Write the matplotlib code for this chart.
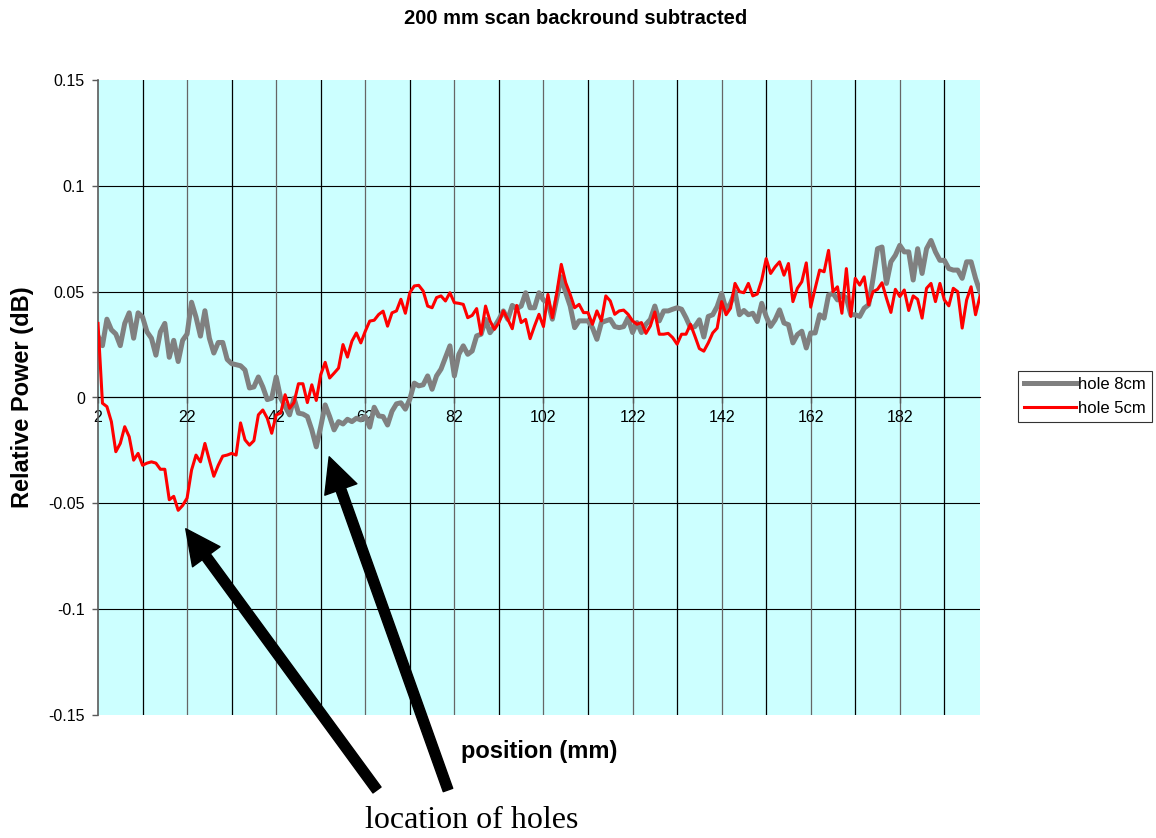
import numpy as np
import matplotlib
matplotlib.use("Agg")
from matplotlib import pyplot as plt
from matplotlib.lines import Line2D

plt.rcParams['font.family'] = ['Liberation Sans', 'DejaVu Sans']

# scan positions in mm, one reading per mm
position = np.arange(2, 201)

hole_8cm = [
    0.029, 0.0245, 0.037, 0.032, 0.030, 0.0245, 0.035, 0.040, 0.028, 0.040,
    0.038, 0.031, 0.028, 0.020, 0.031, 0.035, 0.019, 0.027, 0.017, 0.027,
    0.030, 0.045, 0.038, 0.029, 0.041, 0.028, 0.021, 0.026, 0.026, 0.018,
    0.016, 0.0155, 0.015, 0.013, 0.0045, 0.005, 0.0097, 0.005, -0.001, -0.0003,
    0.0097, -0.0003, -0.0043, -0.0082, -0.0003, -0.0074, -0.0078, -0.009, -0.0153, -0.0233,
    -0.0138, -0.0035, -0.009, -0.0153, -0.0114, -0.0125, -0.0103, -0.0114, -0.0098, -0.0106,
    -0.009, -0.014, -0.0046, -0.0087, -0.009, -0.013, -0.0065, -0.003, -0.0025, -0.0055,
    -0.0008, 0.0068, 0.0055, 0.006, 0.0102, 0.0039, 0.0102, 0.0134, 0.0189, 0.0244,
    0.0102, 0.0204, 0.0244, 0.0204, 0.022, 0.0291, 0.0299, 0.0369, 0.0306, 0.0335,
    0.0369, 0.0409, 0.0369, 0.0435, 0.042, 0.0432, 0.0495, 0.0424, 0.0424, 0.0495,
    0.046, 0.045, 0.037, 0.047, 0.057, 0.0495, 0.0432, 0.033, 0.0362, 0.0362,
    0.0362, 0.033, 0.0275, 0.0354, 0.0362, 0.0369, 0.0335, 0.033, 0.0335, 0.0377,
    0.0307, 0.0354, 0.0307, 0.0346, 0.0369, 0.0432, 0.0362, 0.0409, 0.0409, 0.0417,
    0.0424, 0.0417, 0.0377, 0.033, 0.0335, 0.0367, 0.0286, 0.0383, 0.0391, 0.043,
    0.0492, 0.0414, 0.0445, 0.050, 0.0391, 0.0411, 0.0391, 0.0398, 0.0359, 0.0445,
    0.0383, 0.0336, 0.0367, 0.0414, 0.0352, 0.0344, 0.0258, 0.0297, 0.0313, 0.0234,
    0.0305, 0.0305, 0.0391, 0.0375, 0.0484, 0.0492, 0.0461, 0.0484, 0.047, 0.0391,
    0.0391, 0.0383, 0.0422, 0.0438, 0.0563, 0.0703, 0.0711, 0.0539, 0.0641, 0.0672,
    0.0719, 0.0688, 0.0688, 0.0555, 0.0703, 0.0586, 0.0703, 0.0742, 0.0688, 0.0648,
    0.0648, 0.0609, 0.0602, 0.0602, 0.0563, 0.0641, 0.0641, 0.0563, 0.050,
]

hole_5cm = [
    0.035, -0.0027, -0.0043, -0.0114, -0.0256, -0.0217, -0.0138, -0.0185, -0.0296, -0.0264,
    -0.032, -0.031, -0.0304, -0.031, -0.0339, -0.0339, -0.0483, -0.0467, -0.0533, -0.051,
    -0.0475, -0.0343, -0.0272, -0.0304, -0.0217, -0.0296, -0.0372, -0.032, -0.0277, -0.0272,
    -0.0264, -0.0272, -0.012, -0.020, -0.0225, -0.0204, -0.0082, -0.0059, -0.0098, -0.0169,
    -0.0082, -0.0074, 0.0013, -0.0051, -0.0024, 0.0065, 0.0065, -0.0024, 0.006, -0.0014,
    0.0108, 0.0166, 0.0092, 0.0115, 0.0139, 0.025, 0.0191, 0.0266, 0.0305, 0.0258,
    0.0313, 0.0361, 0.0365, 0.0392, 0.0408, 0.0337, 0.040, 0.0409, 0.0464, 0.0398,
    0.0495, 0.0527, 0.053, 0.0503, 0.0432, 0.0424, 0.0472, 0.048, 0.0456, 0.0495,
    0.0448, 0.0445, 0.044, 0.0377, 0.0388, 0.042, 0.0299, 0.0432, 0.0362, 0.0322,
    0.0354, 0.0409, 0.0369, 0.0325, 0.0435, 0.0354, 0.0369, 0.0278, 0.0338, 0.0393,
    0.0335, 0.0487, 0.0377, 0.0495, 0.0629, 0.0542, 0.0487, 0.0424, 0.044, 0.0401,
    0.0401, 0.0346, 0.0409, 0.0362, 0.048, 0.0456, 0.0393, 0.0409, 0.0413, 0.0393,
    0.0362, 0.0346, 0.0354, 0.0303, 0.0338, 0.0404, 0.0299, 0.0299, 0.0303, 0.0283,
    0.0252, 0.0299, 0.0299, 0.0346, 0.029, 0.0231, 0.0219, 0.0258, 0.0305, 0.0328,
    0.0453, 0.0391, 0.0422, 0.0539, 0.050, 0.0495, 0.0539, 0.048, 0.0489, 0.0555,
    0.0656, 0.0586, 0.0617, 0.0641, 0.0578, 0.0633, 0.0453, 0.0516, 0.0547, 0.0636,
    0.0427, 0.0516, 0.0602, 0.0594, 0.0695, 0.050, 0.0523, 0.0398, 0.0609, 0.0383,
    0.0563, 0.0531, 0.057, 0.0438, 0.050, 0.0511, 0.0542, 0.0469, 0.0402, 0.0511,
    0.0477, 0.0508, 0.0411, 0.048, 0.0464, 0.0375, 0.0516, 0.0539, 0.0453, 0.0539,
    0.0461, 0.0433, 0.0516, 0.050, 0.0328, 0.0461, 0.0523, 0.0391, 0.048,
]

x_ticks = list(range(2, 200, 20))
y_ticks = [-0.15, -0.1, -0.05, 0, 0.05, 0.1, 0.15]
y_tick_labels = ['-0.15', '-0.1', '-0.05', '0', '0.05', '0.1', '0.15']

# where the holes sit along the scan (arrow tips)
hole_x = [21.7, 53.9]
hole_y = [-0.062, -0.028]

fig = plt.figure(figsize=(11.56, 8.38), dpi=100)
ax = fig.add_axes([98 / 1156, 123 / 838, 882 / 1156, 635 / 838])
ax.set_facecolor('#CCFFFF')

ax.set_xlim(2, 200)
ax.set_ylim(-0.15, 0.15)

for y in y_ticks[1:-1]:
    ax.axhline(y, color='black', lw=0.8, zorder=1)
for p in range(12, 200, 10):
    col = '#666666' if (p - 2) % 20 == 0 else 'black'
    ax.axvline(p, color=col, lw=0.9, zorder=1)

ax.plot(position, hole_8cm, color='#808080', lw=3.6, zorder=3)
ax.plot(position, hole_5cm, color='#FF0000', lw=2.2, zorder=4)

for s in ['top', 'right']:
    ax.spines[s].set_visible(False)
ax.spines['left'].set_color('#5a5a5a')
ax.spines['left'].set_linewidth(1.2)
ax.spines['bottom'].set_position(('data', 0))
ax.spines['bottom'].set_color('black')
ax.spines['bottom'].set_linewidth(0.8)

ax.set_xticks(x_ticks)
ax.set_xticklabels([str(t) for t in x_ticks], fontsize=11.5)
ax.set_yticks(y_ticks)
ax.set_yticklabels(y_tick_labels, fontsize=11.5)
ax.tick_params(axis='x', length=4, width=1, color='#5a5a5a', pad=5)
ax.tick_params(axis='y', length=4.5, width=1, color='#5a5a5a', pad=5)

ax.set_xlabel('position (mm)', fontsize=17, fontweight='bold')
ax.xaxis.label.set_va('center')
ax.xaxis.set_label_coords(0.5, -0.058)
ax.set_ylabel('Relative Power (dB)', fontsize=17, fontweight='bold')
ax.yaxis.label.set_va('center')
ax.yaxis.set_label_coords(-0.086, 0.5)

fig.text(576 / 1156, 1 - 18 / 838, '200 mm scan backround subtracted',
         ha='center', va='center', fontsize=14.5, fontweight='bold')

handles = [Line2D([], [], color='#808080', lw=3.6),
           Line2D([], [], color='#FF0000', lw=2.2)]
leg = fig.legend(handles, ['hole 8cm', 'hole 5cm'], loc='upper left',
                 bbox_to_anchor=(1018 / 1156, 1 - 371 / 838), borderaxespad=0,
                 fontsize=12, frameon=True, fancybox=False, handlelength=3.1,
                 handletextpad=0.15, borderpad=0.35, labelspacing=0.55)
leg.get_frame().set_edgecolor('black')
leg.get_frame().set_linewidth(0.8)

# arrows from the note up to the two holes
tails = [(377, 48), (448, 48)]
for hx, hy, tail in zip(hole_x, hole_y, tails):
    ax.annotate('', xy=(hx, hy), xycoords='data', xytext=tail,
                textcoords='figure pixels', annotation_clip=False,
                arrowprops=dict(arrowstyle='simple,head_length=0.5,head_width=0.49,tail_width=0.144',
                                mutation_scale=50, color='black', shrinkA=0, shrinkB=0))

fig.text(472 / 1156, 1 - 820 / 838, 'location of holes', ha='center', va='center',
         fontsize=23, family=['Liberation Serif', 'DejaVu Serif'])

fig.savefig('out.png', dpi=100)
